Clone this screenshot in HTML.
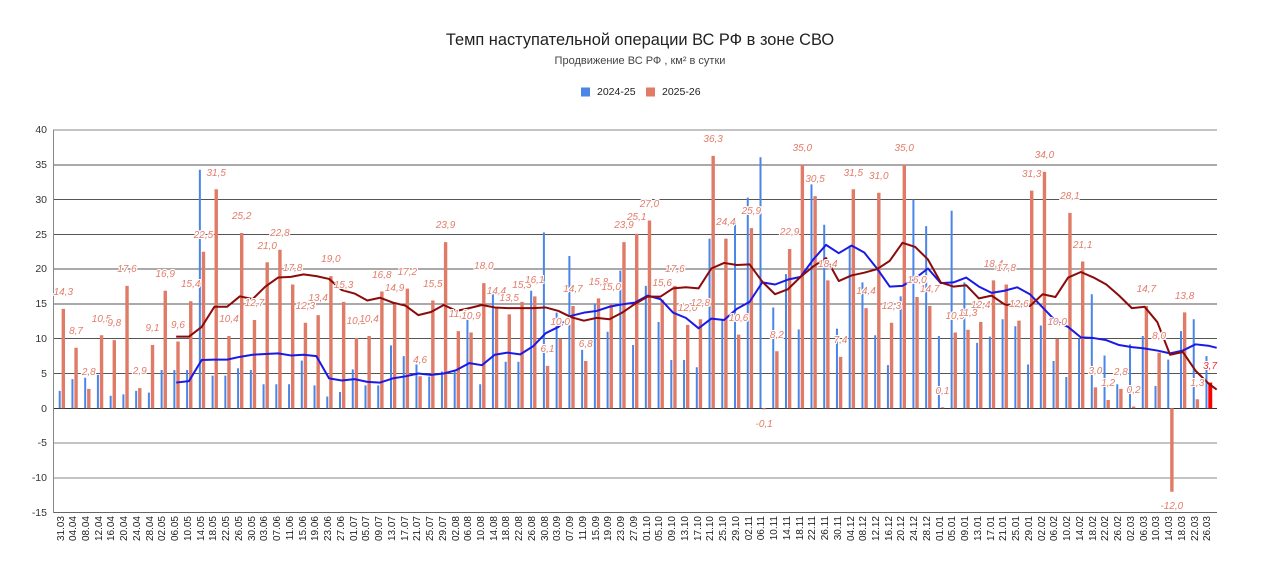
<!DOCTYPE html>
<html><head><meta charset="utf-8">
<style>
html,body{margin:0;padding:0;width:1280px;height:573px;overflow:hidden;background:#fff;font-family:"Liberation Sans",Arial,sans-serif}
#c{position:relative;width:1280px;height:573px}
svg{position:absolute;left:0;top:0}
.ttl{position:absolute;left:0;width:1280px;text-align:center;top:30px;font-size:16.4px;line-height:20px;color:#222}
.sub{position:absolute;left:0;width:1280px;text-align:center;top:54.7px;font-size:11px;line-height:13px;color:#444}
.lg{position:absolute;top:86.4px;font-size:10.5px;line-height:12px;color:#222}
.y{position:absolute;left:0;width:47px;text-align:right;font-size:10.5px;line-height:12px;color:#333}
.L i{position:absolute;font-style:italic;font-size:10px;line-height:10px;color:#e27c69;white-space:nowrap;
left:calc(63.3px + 12.742px * var(--i));top:calc(392.6px - 6.955px * var(--v));transform:translate(-50%,-50%);
text-shadow:1px 0 #fff,-1px 0 #fff,0 1px #fff,0 -1px #fff,1px 1px #fff,-1px -1px #fff,1px -1px #fff,-1px 1px #fff}
.L i.n{top:calc(424px - 6.955px * var(--v))}
.D span{position:absolute;font-size:10px;line-height:10px;color:#222;white-space:nowrap;
left:calc(61.5px + 12.742px * var(--i));top:516px;transform-origin:0 0;transform:rotate(-90deg) translate(-100%,-50%)}
</style></head><body><div id="c">
<svg width="1280" height="573" viewBox="0 0 1280 573">
<g stroke="#555" stroke-width="1" shape-rendering="crispEdges">
<line x1="53" y1="165" x2="1217" y2="165"/>
<line x1="53" y1="199.5" x2="1217" y2="199.5"/>
<line x1="53" y1="234.5" x2="1217" y2="234.5"/>
<line x1="53" y1="269" x2="1217" y2="269"/>
<line x1="53" y1="304" x2="1217" y2="304"/>
<line x1="53" y1="338.5" x2="1217" y2="338.5"/>
<line x1="53" y1="373.5" x2="1217" y2="373.5"/>
<line x1="53" y1="408.5" x2="1217" y2="408.5" stroke="#333"/>
</g>
<g stroke="#888" stroke-width="1" shape-rendering="crispEdges">
<line x1="53" y1="130" x2="1217" y2="130"/>
<line x1="53" y1="443" x2="1217" y2="443"/>
<line x1="53" y1="478" x2="1217" y2="478"/>
<line x1="53" y1="512.5" x2="1217" y2="512.5" stroke="#666"/>
<line x1="53.5" y1="130" x2="53.5" y2="513"/>
</g>
<g transform="matrix(12.742 0 0 -6.955 61.5 408.3)">
<path fill="#4a86e8" d="M-.22 0h.157v2.5h-.157zm1 0h.157v4.2h-.157zm1 0h.157v4.4h-.157zm1 0h.157v4.8h-.157zm1 0h.157v1.8h-.157zm1 0h.157v2h-.157zm1 0h.157v2.5h-.157zm1 0h.157v2.25h-.157zm1 0h.157v5.5h-.157zm1 0h.157v5.5h-.157zm1 0h.157v5.5h-.157zm1 0h.157v34.3h-.157zm1 0h.157v4.7h-.157zm1 0h.157v4.7h-.157zm1 0h.157v5.75h-.157zm1 0h.157v5.5h-.157zm1 0h.157v3.45h-.157zm1 0h.157v3.45h-.157zm1 0h.157v3.45h-.157zm1 0h.157v6.85h-.157zm1 0h.157v3.3h-.157zm1 0h.157v1.7h-.157zm1 0h.157v2.35h-.157zm1 0h.157v5.6h-.157zm1 0h.157v3.3h-.157zm1 0h.157v3.3h-.157zm1 0h.157v9.05h-.157zm1 0h.157v7.5h-.157zm1 0h.157v6.3h-.157zm1 0h.157v4.55h-.157zm1 0h.157v5.3h-.157zm1 0h.157v5.3h-.157zm1 0h.157v12.8h-.157zm1 0h.157v3.45h-.157zm1 0h.157v16.4h-.157zm1 0h.157v6.7h-.157zm1 0h.157v6.7h-.157zm1 0h.157v16.9h-.157zm1 0h.157v25.3h-.157zm1 0h.157v13.75h-.157zm1 0h.157v21.9h-.157zm1 0h.157v8.4h-.157zm1 0h.157v15.1h-.157zm1 0h.157v11h-.157zm1 0h.157v19.8h-.157zm1 0h.157v9.1h-.157zm1 0h.157v17.6h-.157zm1 0h.157v12.4h-.157zm1 0h.157v6.95h-.157zm1 0h.157v6.95h-.157zm1 0h.157v5.9h-.157zm1 0h.157v24.4h-.157zm1 0h.157v12.7h-.157zm1 0h.157v27.5h-.157zm1 0h.157v30.3h-.157zm1 0h.157v36.1h-.157zm1 0h.157v14.5h-.157zm1 0h.157v19.3h-.157zm1 0h.157v11.35h-.157zm1 0h.157v32.2h-.157zm1 0h.157v26.4h-.157zm1 0h.157v11.45h-.157zm1 0h.157v23.4h-.157zm1 0h.157v18.1h-.157zm1 0h.157v10.5h-.157zm1 0h.157v6.2h-.157zm1 0h.157v16.1h-.157zm1 0h.157v30h-.157zm1 0h.157v26.2h-.157zm1 0h.157v10.4h-.157zm1 0h.157v28.4h-.157zm1 0h.157v18.1h-.157zm1 0h.157v9.4h-.157zm1 0h.157v10.3h-.157zm1 0h.157v12.8h-.157zm1 0h.157v11.8h-.157zm1 0h.157v6.3h-.157zm1 0h.157v11.9h-.157zm1 0h.157v6.8h-.157zm1 0h.157v4.5h-.157zm1 0h.157v10h-.157zm1 0h.157v16.4h-.157zm1 0h.157v7.6h-.157zm1 0h.157v3.45h-.157zm1 0h.157v9.2h-.157zm1 0h.157v10.4h-.157zm1 0h.157v3.2h-.157zm1 0h.157v7h-.157zm1 0h.157v11.1h-.157zm1 0h.157v12.8h-.157zm1 0h.157v7.5h-.157z"/>
<path fill="#e07b67" d="M.01 0h.267v14.3h-.267zm1 0h.267v8.7h-.267zm1 0h.267v2.8h-.267zm1 0h.267v10.5h-.267zm1 0h.267v9.8h-.267zm1 0h.267v17.6h-.267zm1 0h.267v2.9h-.267zm1 0h.267v9.1h-.267zm1 0h.267v16.9h-.267zm1 0h.267v9.6h-.267zm1 0h.267v15.4h-.267zm1 0h.267v22.5h-.267zm1 0h.267v31.5h-.267zm1 0h.267v10.4h-.267zm1 0h.267v25.2h-.267zm1 0h.267v12.7h-.267zm1 0h.267v21h-.267zm1 0h.267v22.8h-.267zm1 0h.267v17.8h-.267zm1 0h.267v12.3h-.267zm1 0h.267v13.4h-.267zm1 0h.267v19h-.267zm1 0h.267v15.3h-.267zm1 0h.267v10.1h-.267zm1 0h.267v10.4h-.267zm1 0h.267v16.8h-.267zm1 0h.267v14.9h-.267zm1 0h.267v17.2h-.267zm1 0h.267v4.6h-.267zm1 0h.267v15.5h-.267zm1 0h.267v23.9h-.267zm1 0h.267v11.1h-.267zm1 0h.267v10.9h-.267zm1 0h.267v18h-.267zm1 0h.267v14.4h-.267zm1 0h.267v13.5h-.267zm1 0h.267v15.3h-.267zm1 0h.267v16.1h-.267zm1 0h.267v6.1h-.267zm1 0h.267v10h-.267zm1 0h.267v14.7h-.267zm1 0h.267v6.8h-.267zm1 0h.267v15.8h-.267zm1 0h.267v15h-.267zm1 0h.267v23.9h-.267zm1 0h.267v25.1h-.267zm1 0h.267v27h-.267zm1 0h.267v15.6h-.267zm1 0h.267v17.6h-.267zm1 0h.267v12h-.267zm1 0h.267v12.8h-.267zm1 0h.267v36.3h-.267zm1 0h.267v24.4h-.267zm1 0h.267v10.6h-.267zm1 0h.267v25.9h-.267zm1 0h.267v-0.15h-.267zm1 0h.267v8.2h-.267zm1 0h.267v22.9h-.267zm1 0h.267v35h-.267zm1 0h.267v30.5h-.267zm1 0h.267v18.4h-.267zm1 0h.267v7.4h-.267zm1 0h.267v31.5h-.267zm1 0h.267v14.4h-.267zm1 0h.267v31h-.267zm1 0h.267v12.3h-.267zm1 0h.267v35h-.267zm1 0h.267v16h-.267zm1 0h.267v14.7h-.267zm1 0h.267v0.15h-.267zm1 0h.267v10.9h-.267zm1 0h.267v11.3h-.267zm1 0h.267v12.4h-.267zm1 0h.267v18.4h-.267zm1 0h.267v17.8h-.267zm1 0h.267v12.6h-.267zm1 0h.267v31.3h-.267zm1 0h.267v34h-.267zm1 0h.267v10h-.267zm1 0h.267v28.1h-.267zm1 0h.267v21.1h-.267zm1 0h.267v3h-.267zm1 0h.267v1.2h-.267zm1 0h.267v2.8h-.267zm1 0h.267v0.25h-.267zm1 0h.267v14.7h-.267zm1 0h.267v8h-.267zm1 0h.267v-12h-.267zm1 0h.267v13.8h-.267zm1 0h.267v1.3h-.267z"/>
<rect x="90" y="0" width=".31" height="3.7" fill="#ff0000"/>
<polyline fill="none" stroke="#1a1ae6" stroke-width="2" vector-effect="non-scaling-stroke" stroke-linejoin="round" points="9,3.7 10,3.9 11,6.95 12,7 13,7 14,7.4 15,7.7 16,7.8 17,7.9 18,7.6 19,7.7 20,7.5 21,4.3 22,4 23,4.2 24,3.8 25,3.7 26,4.3 27,4.6 28,5 29,4.8 30,5 31,5.5 32,6.5 33,6.2 34,7.7 35,8 36,7.75 37,8.9 38,10.8 39,11.7 40,13.3 41,13.75 42,14 43,14.6 44,14.95 45,15.2 46,16.2 47,15.7 48,13.75 49,13 50,11.5 51,12.9 52,12.7 53,14.3 54,15.3 55,18.1 56,17.8 57,18.5 58,18.9 59,21.4 60,23.5 61,22.3 62,23.4 63,22.4 64,20.1 65,17.5 66,17.6 67,18.7 68,20.1 69,18 70,18.1 71,18.8 72,17.5 73,16.6 74,16.9 75,17.4 76,16.4 77,14.5 78,12.6 79,11.7 80,10.2 81,10.1 82,9.8 83,9.1 84,8.8 85,8.6 86,8.3 87,7.9 88,8.3 89,9.2 90,9 90.66,8.7"/>
<polyline fill="none" stroke="#8b0a0a" stroke-width="2" vector-effect="non-scaling-stroke" stroke-linejoin="round" points="9,10.3 10,10.3 11,11.7 12,14.6 13,14.6 14,16.1 15,15.7 16,17.5 17,18.8 18,18.9 19,19.25 20,19 21,18.6 22,17 23,16.5 24,15.5 25,15.9 26,15.2 27,14.75 28,13.4 29,13.85 30,14.85 31,14 32,14.4 33,14.85 34,14.5 35,14.4 36,14.4 37,14.4 38,14.5 39,14 40,13.1 41,12.6 42,13 43,12.8 44,13.75 45,15 46,16.05 47,16.05 48,17.25 49,17.4 50,17.25 51,20.1 52,20.9 53,20.6 54,20.7 55,18.2 56,16.4 57,17.1 58,18.9 59,20.4 60,21.6 61,18.3 62,19.1 63,19.5 64,20 65,21.2 66,23.8 67,23.2 68,21.4 69,18.1 70,17.5 71,17.7 72,15.8 73,16.2 74,14.95 75,14.6 76,14.7 77,16.4 78,16 79,18.8 80,19.6 81,18.8 82,17.8 83,16.2 84,14.4 85,14.6 86,12.4 87,7.7 88,8.1 89,5.4 90,3.6 90.66,2.7"/>
</g>
<rect x="581" y="87.5" width="9" height="9" fill="#4a86e8"/>
<rect x="646" y="87.5" width="9" height="9" fill="#e07b67"/>
</svg>

<div class="ttl">Темп наступательной операции ВС РФ в зоне СВО</div>
<div class="sub">Продвижение ВС РФ , км² в сутки</div>
<div class="lg" style="left:597px">2024-25</div>
<div class="lg" style="left:662px">2025-26</div>

<div class="y" style="top:124.3px">40</div>
<div class="y" style="top:159.1px">35</div>
<div class="y" style="top:193.9px">30</div>
<div class="y" style="top:228.6px">25</div>
<div class="y" style="top:263.4px">20</div>
<div class="y" style="top:298.2px">15</div>
<div class="y" style="top:333px">10</div>
<div class="y" style="top:367.7px">5</div>
<div class="y" style="top:402.5px">0</div>
<div class="y" style="top:437.3px">-5</div>
<div class="y" style="top:472px">-10</div>
<div class="y" style="top:506.8px">-15</div>

<div class="L">
<i style="--i:0;--v:14.3">14,3</i>
<i style="--i:1;--v:8.7">8,7</i>
<i style="--i:2;--v:2.8">2,8</i>
<i style="--i:3;--v:10.5">10,5</i>
<i style="--i:4;--v:9.8">9,8</i>
<i style="--i:5;--v:17.6">17,6</i>
<i style="--i:6;--v:2.9">2,9</i>
<i style="--i:7;--v:9.1">9,1</i>
<i style="--i:8;--v:16.9">16,9</i>
<i style="--i:9;--v:9.6">9,6</i>
<i style="--i:10;--v:15.4">15,4</i>
<i style="--i:11;--v:22.5">22,5</i>
<i style="--i:12;--v:31.5">31,5</i>
<i style="--i:13;--v:10.4">10,4</i>
<i style="--i:14;--v:25.2">25,2</i>
<i style="--i:15;--v:12.7">12,7</i>
<i style="--i:16;--v:21">21,0</i>
<i style="--i:17;--v:22.8">22,8</i>
<i style="--i:18;--v:17.8">17,8</i>
<i style="--i:19;--v:12.3">12,3</i>
<i style="--i:20;--v:13.4">13,4</i>
<i style="--i:21;--v:19">19,0</i>
<i style="--i:22;--v:15.3">15,3</i>
<i style="--i:23;--v:10.1">10,1</i>
<i style="--i:24;--v:10.4">10,4</i>
<i style="--i:25;--v:16.8">16,8</i>
<i style="--i:26;--v:14.9">14,9</i>
<i style="--i:27;--v:17.2">17,2</i>
<i style="--i:28;--v:4.6">4,6</i>
<i style="--i:29;--v:15.5">15,5</i>
<i style="--i:30;--v:23.9">23,9</i>
<i style="--i:31;--v:11.1">11,1</i>
<i style="--i:32;--v:10.9">10,9</i>
<i style="--i:33;--v:18">18,0</i>
<i style="--i:34;--v:14.4">14,4</i>
<i style="--i:35;--v:13.5">13,5</i>
<i style="--i:36;--v:15.3">15,3</i>
<i style="--i:37;--v:16.1">16,1</i>
<i style="--i:38;--v:6.1">6,1</i>
<i style="--i:39;--v:10">10,0</i>
<i style="--i:40;--v:14.7">14,7</i>
<i style="--i:41;--v:6.8">6,8</i>
<i style="--i:42;--v:15.8">15,8</i>
<i style="--i:43;--v:15">15,0</i>
<i style="--i:44;--v:23.9">23,9</i>
<i style="--i:45;--v:25.1">25,1</i>
<i style="--i:46;--v:27">27,0</i>
<i style="--i:47;--v:15.6">15,6</i>
<i style="--i:48;--v:17.6">17,6</i>
<i style="--i:49;--v:12">12,0</i>
<i style="--i:50;--v:12.8">12,8</i>
<i style="--i:51;--v:36.3">36,3</i>
<i style="--i:52;--v:24.4">24,4</i>
<i style="--i:53;--v:10.6">10,6</i>
<i style="--i:54;--v:25.9">25,9</i>
<i class="n" style="--i:55;--v:-0.1">-0,1</i>
<i style="--i:56;--v:8.2">8,2</i>
<i style="--i:57;--v:22.9">22,9</i>
<i style="--i:58;--v:35">35,0</i>
<i style="--i:59;--v:30.5">30,5</i>
<i style="--i:60;--v:18.4">18,4</i>
<i style="--i:61;--v:7.4">7,4</i>
<i style="--i:62;--v:31.5">31,5</i>
<i style="--i:63;--v:14.4">14,4</i>
<i style="--i:64;--v:31">31,0</i>
<i style="--i:65;--v:12.3">12,3</i>
<i style="--i:66;--v:35">35,0</i>
<i style="--i:67;--v:16">16,0</i>
<i style="--i:68;--v:14.7">14,7</i>
<i style="--i:69;--v:0.1">0,1</i>
<i style="--i:70;--v:10.9">10,9</i>
<i style="--i:71;--v:11.3">11,3</i>
<i style="--i:72;--v:12.4">12,4</i>
<i style="--i:73;--v:18.4">18,4</i>
<i style="--i:74;--v:17.8">17,8</i>
<i style="--i:75;--v:12.6">12,6</i>
<i style="--i:76;--v:31.3">31,3</i>
<i style="--i:77;--v:34">34,0</i>
<i style="--i:78;--v:10">10,0</i>
<i style="--i:79;--v:28.1">28,1</i>
<i style="--i:80;--v:21.1">21,1</i>
<i style="--i:81;--v:3">3,0</i>
<i style="--i:82;--v:1.2">1,2</i>
<i style="--i:83;--v:2.8">2,8</i>
<i style="--i:84;--v:0.2">0,2</i>
<i style="--i:85;--v:14.7">14,7</i>
<i style="--i:86;--v:8">8,0</i>
<i class="n" style="--i:87;--v:-12">-12,0</i>
<i style="--i:88;--v:13.8">13,8</i>
<i style="--i:89;--v:1.3">1,3</i>
<i style="--i:90;--v:3.7;color:#f03030">3,7</i>
</div>

<div class="D">
<span style="--i:0">31.03</span><span style="--i:1">04.04</span><span style="--i:2">08.04</span><span style="--i:3">12.04</span><span style="--i:4">16.04</span><span style="--i:5">20.04</span><span style="--i:6">24.04</span><span style="--i:7">28.04</span><span style="--i:8">02.05</span><span style="--i:9">06.05</span>
<span style="--i:10">10.05</span><span style="--i:11">14.05</span><span style="--i:12">18.05</span><span style="--i:13">22.05</span><span style="--i:14">26.05</span><span style="--i:15">30.05</span><span style="--i:16">03.06</span><span style="--i:17">07.06</span><span style="--i:18">11.06</span><span style="--i:19">15.06</span>
<span style="--i:20">19.06</span><span style="--i:21">23.06</span><span style="--i:22">27.06</span><span style="--i:23">01.07</span><span style="--i:24">05.07</span><span style="--i:25">09.07</span><span style="--i:26">13.07</span><span style="--i:27">17.07</span><span style="--i:28">21.07</span><span style="--i:29">25.07</span>
<span style="--i:30">29.07</span><span style="--i:31">02.08</span><span style="--i:32">06.08</span><span style="--i:33">10.08</span><span style="--i:34">14.08</span><span style="--i:35">18.08</span><span style="--i:36">22.08</span><span style="--i:37">26.08</span><span style="--i:38">30.08</span><span style="--i:39">03.09</span>
<span style="--i:40">07.09</span><span style="--i:41">11.09</span><span style="--i:42">15.09</span><span style="--i:43">19.09</span><span style="--i:44">23.09</span><span style="--i:45">27.09</span><span style="--i:46">01.10</span><span style="--i:47">05.10</span><span style="--i:48">09.10</span><span style="--i:49">13.10</span>
<span style="--i:50">17.10</span><span style="--i:51">21.10</span><span style="--i:52">25.10</span><span style="--i:53">29.10</span><span style="--i:54">02.11</span><span style="--i:55">06.11</span><span style="--i:56">10.11</span><span style="--i:57">14.11</span><span style="--i:58">18.11</span><span style="--i:59">22.11</span>
<span style="--i:60">26.11</span><span style="--i:61">30.11</span><span style="--i:62">04.12</span><span style="--i:63">08.12</span><span style="--i:64">12.12</span><span style="--i:65">16.12</span><span style="--i:66">20.12</span><span style="--i:67">24.12</span><span style="--i:68">28.12</span><span style="--i:69">01.01</span>
<span style="--i:70">05.01</span><span style="--i:71">09.01</span><span style="--i:72">13.01</span><span style="--i:73">17.01</span><span style="--i:74">21.01</span><span style="--i:75">25.01</span><span style="--i:76">29.01</span><span style="--i:77">02.02</span><span style="--i:78">06.02</span><span style="--i:79">10.02</span>
<span style="--i:80">14.02</span><span style="--i:81">18.02</span><span style="--i:82">22.02</span><span style="--i:83">26.02</span><span style="--i:84">02.03</span><span style="--i:85">06.03</span><span style="--i:86">10.03</span><span style="--i:87">14.03</span><span style="--i:88">18.03</span><span style="--i:89">22.03</span>
<span style="--i:90">26.03</span>
</div>
</div></body></html>
